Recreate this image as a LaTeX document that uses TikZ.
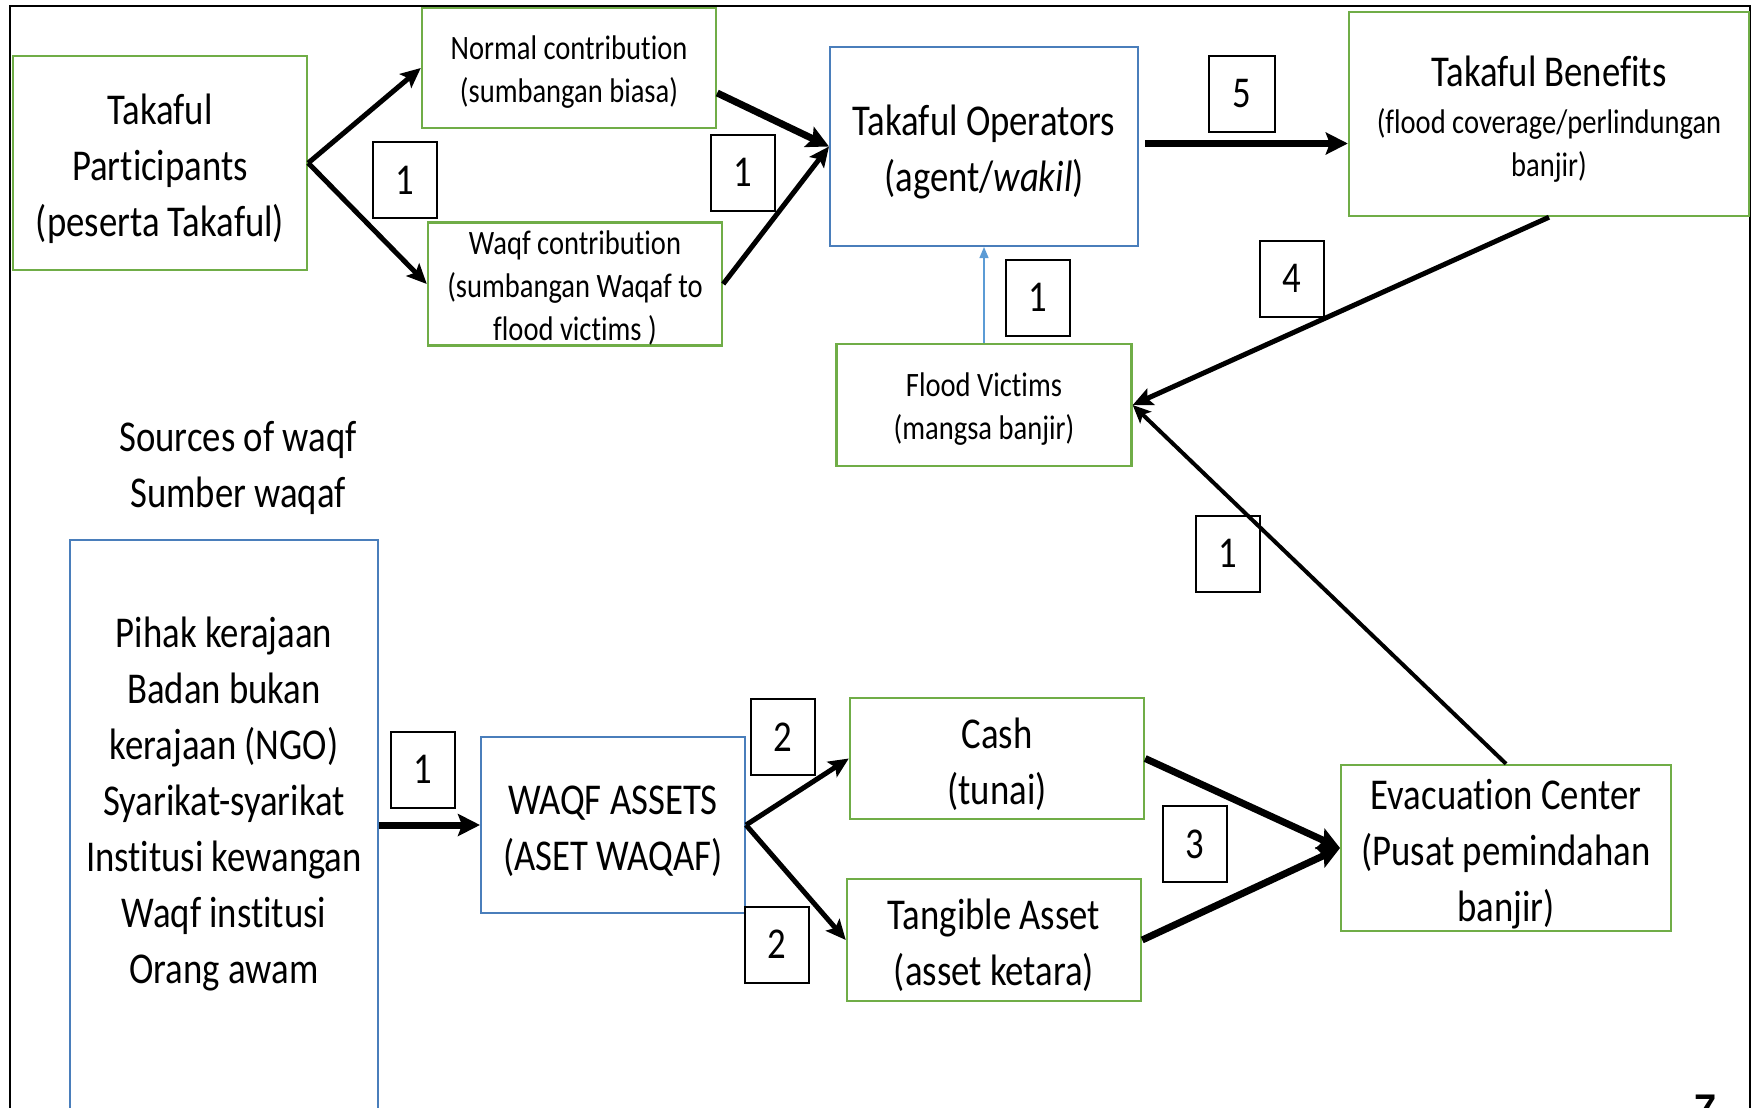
\documentclass[tikz,border=0pt]{standalone}
\usepackage{fontspec}
\setmainfont{Carlito}[FakeStretch=0.835,Ligatures=NoCommon]
\newfontfamily\pagenumfont{Liberation Sans}
\usetikzlibrary{arrows.meta,calc}
\definecolor{boxgreen}{HTML}{70AD47}
\definecolor{boxblue}{HTML}{4A7EBB}
\definecolor{linkblue}{HTML}{5B9BD5}
\newcommand\bigtxt{\fontsize{44}{56}\selectfont}
\newcommand\smalltxt{\fontsize{34.2}{43}\selectfont}
% a strut on the first line keeps the text block slightly low in its box
\newcommand\firststrut{\rule{0pt}{0.95em}}
\tikzset{
  greenbox/.style={draw=boxgreen,line width=2.4pt,inner sep=0pt,align=center},
  bluebox/.style={draw=boxblue,line width=2pt,inner sep=0pt,align=center},
  numbox/.style={draw=black,line width=2pt,inner sep=0pt,
    minimum width=64pt,minimum height=76pt,font=\bigtxt},
  flow/.style={line width=5pt,-{Stealth[length=20pt,width=18pt,inset=4pt]}},
  flowheavy/.style={line width=7pt,-{Stealth[length=22pt,width=22pt,inset=4pt]}},
  flowlight/.style={line width=4pt,-{Stealth[length=18pt,width=16pt,inset=4pt]}},
  bluelink/.style={draw=linkblue,line width=1.3pt,-{Triangle[length=11pt,width=9pt]}}
}
\begin{document}
\begin{tikzpicture}[x=1pt,y=-1pt]
\useasboundingbox (0,0) rectangle (1754,1108);
% slide frame
\draw[line width=1.6pt] (10,6) rectangle (1750,1140);

% takaful side
\node[greenbox,minimum width=294pt,minimum height=214pt,font=\bigtxt] (tp) at (160,163)
  {\firststrut Takaful\\Participants\\(peserta Takaful)};
\node[greenbox,minimum width=294pt,minimum height=120pt,font=\smalltxt] (normal) at (569,68)
  {\firststrut Normal contribution\\(sumbangan biasa)};
\node[greenbox,minimum width=294pt,minimum height=120pt,font=\smalltxt] (waqf) at (575,284)
  {\firststrut Waqf contribution\\(sumbangan Waqaf to\\flood victims )};
\node[bluebox,minimum width=308pt,minimum height=199pt,font=\bigtxt] (to) at (984,146.5)
  {\firststrut Takaful Operators\\(agent/\textit{wakil})};
\node[greenbox,minimum width=400pt,minimum height=204pt,font=\smalltxt] (tb) at (1549,114)
  {{\bigtxt\firststrut Takaful Benefits}\\[4pt](flood coverage/perlindungan\\banjir)};
\node[greenbox,minimum width=295pt,minimum height=122pt,font=\smalltxt] (fv) at (984,405)
  {\firststrut Flood Victims\\(mangsa banjir)};

% waqf side
\node[align=center,font=\bigtxt] (srctitle) at (238,468) {Sources of waqf\\Sumber waqaf};
\node[draw=boxblue,line width=1.6pt,minimum width=308.5pt,minimum height=620pt] (srcbox) at (224,850) {};
\node[align=center,font=\bigtxt] (srctext) at (224,804)
  {Pihak kerajaan\\Badan bukan\\kerajaan (NGO)\\Syarikat-syarikat\\Institusi kewangan\\Waqf institusi\\Orang awam};
\node[bluebox,minimum width=264pt,minimum height=176pt,font=\bigtxt] (wa) at (613,825)
  {\firststrut WAQF ASSETS\\(ASET WAQAF)};
\node[greenbox,minimum width=294pt,minimum height=121pt,font=\bigtxt] (cash) at (997,758.5)
  {\firststrut Cash\\(tunai)};
\node[greenbox,minimum width=294pt,minimum height=122pt,font=\bigtxt] (tang) at (994,940)
  {\firststrut Tangible Asset\\(asset ketara)};
\node[greenbox,minimum width=329.5pt,minimum height=166pt,font=\bigtxt] (ec) at (1506,848)
  {\firststrut Evacuation Center\\(Pusat pemindahan\\banjir)};

% step numbers
\node[numbox] (n1a) at (404.5,180) {1};
\node[numbox] (n1b) at (743,172.5) {1};
\node[numbox,minimum width=66pt] (n5) at (1242,94) {5};
\node[numbox] (n1c) at (1038,297.5) {1};
\node[numbox] (n4) at (1292,278.5) {4};
\node[numbox] (n1d) at (1228,553.5) {1};
\node[numbox] (n1e) at (423,769.5) {1};
\node[numbox] (n2a) at (782.5,737) {2};
\node[numbox] (n2b) at (777,944.5) {2};
\node[numbox] (n3) at (1194.5,844) {3};

% connectors
\draw[flow] (tp.east) -- (normal.west);
\draw[flow] (tp.east) -- (waqf.west);
\draw[flowheavy] ($(normal.east)+(0,25)$) -- (to.west);
\draw[flow] (waqf.east) -- (to.west);
\coordinate (fivestart) at ($(to.east)+(6,-3)$);
\draw[flowheavy] (fivestart) -- (fivestart -| tb.west);
\draw[flow] (tb.south) -- (fv.east);
\draw[bluelink] (fv.north) -- (to.south);
\draw[flowlight] (ec.north) -- (fv.east);
\draw[flowheavy] (srcbox.east |- wa.west) -- (wa.west);
\draw[flow] (wa.east) -- (cash.west);
\draw[flow] (wa.east) -- (tang.west);
\draw[flowheavy] (cash.east) -- (ec.west);
\draw[flowheavy] (tang.east) -- (ec.west);

% slide number
\node[anchor=base,font=\pagenumfont\bfseries\fontsize{40}{40}\selectfont] (pagenum) at (1706,1122) {7};
\end{tikzpicture}
\end{document}
